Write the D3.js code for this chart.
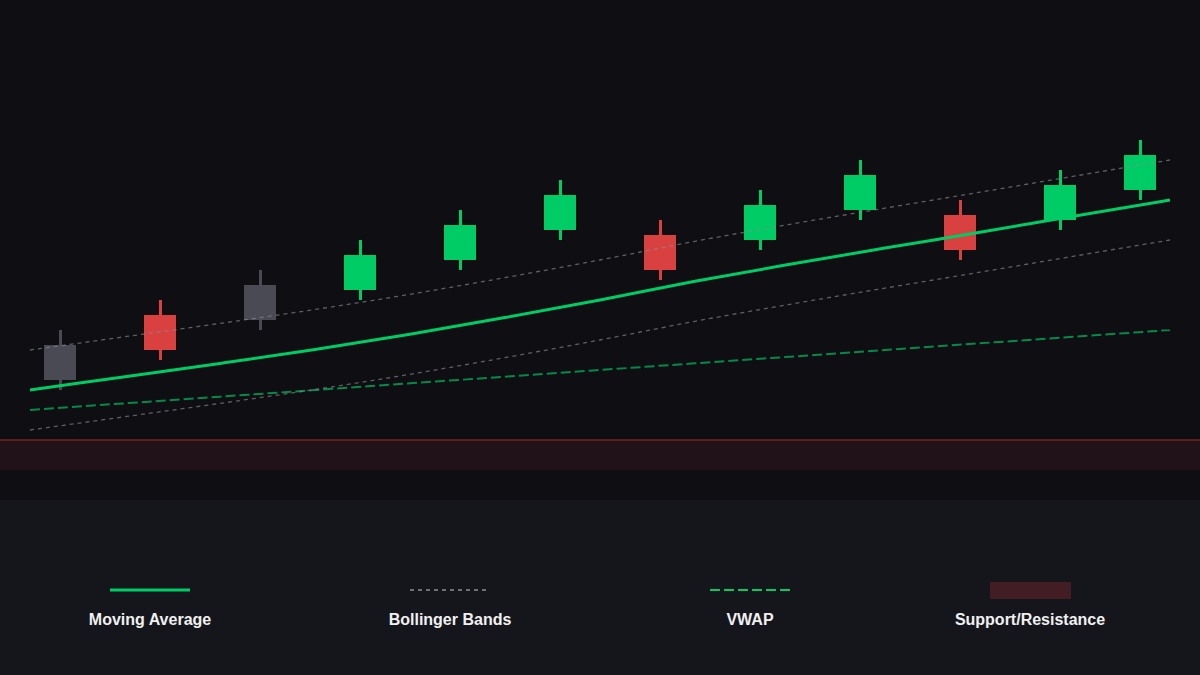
<!DOCTYPE html>
<html>
<head>
<meta charset="utf-8">
<script src="https://cdn.jsdelivr.net/npm/d3@7/dist/d3.min.js"></script>
<style>
  html, body { margin: 0; padding: 0; background: #0e0e13; }
  svg { display: block; }
</style>
</head>
<body>
<svg id="chart" width="1200" height="675"></svg>
<script>
// ---- data ----
const candleIdx = [0, 1, 2, 3, 4, 5, 6, 7, 8, 9, 10, 11];
const opens  = [115.5, 118.5, 121.5, 121.0, 124.0, 127.0, 126.5, 126.0, 129.0, 128.5, 128.0, 131.0];
const closes = [112.0, 115.0, 118.0, 124.5, 127.5, 130.5, 123.0, 129.5, 132.5, 125.0, 131.5, 134.5];
const highs  = [117.0, 120.0, 123.0, 126.0, 129.0, 132.0, 128.0, 131.0, 134.0, 130.0, 133.0, 136.0];
const lows   = [111.0, 114.0, 117.0, 120.0, 123.0, 126.0, 122.0, 125.0, 128.0, 124.0, 127.0, 130.0];
const kinds  = ["neutral", "down", "neutral", "up", "up", "up", "down", "up", "up", "down", "up", "up"];

const lineIdx   = [0, 1, 2, 3, 4, 5, 6, 7, 8, 9, 10, 11, 12];
const maValues  = [111.0, 112.33, 113.66, 115.05, 116.57, 118.24, 120.0, 121.87, 123.57, 125.19, 126.78, 128.4, 130.0];
const bbUpper   = [115.0, 116.33, 117.66, 119.05, 120.57, 122.24, 124.0, 125.87, 127.57, 129.19, 130.78, 132.4, 134.0];
const bbLower   = [107.0, 108.33, 109.66, 111.05, 112.57, 114.24, 116.0, 117.87, 119.57, 121.19, 122.78, 124.4, 126.0];
const vwapValues = [109.0, 109.67, 110.33, 111.0, 111.67, 112.33, 113.0, 113.67, 114.33, 115.0, 115.67, 116.33, 117.0];

const supportLevel = 106.0;
const supportZoneLow = 103.0;

const legendLabels = ["Moving Average", "Bollinger Bands", "VWAP", "Support/Resistance"];
const legendKinds  = ["ma", "bb", "vwap", "zone"];

// ---- setup ----
const W = 1200, H = 675;
const chartH = 500;
const svg = d3.select("#chart");

const colors = { up: "#00cc66", down: "#d94040", neutral: "#4a4a55" };

svg.append("rect").attr("x", 0).attr("y", 0).attr("width", W).attr("height", chartH).attr("fill", "#0e0e13");
svg.append("rect").attr("x", 0).attr("y", chartH).attr("width", W).attr("height", H - chartH).attr("fill", "#15161b");

const y = d3.scaleLinear().domain([100, 150]).range([chartH, 0]);
const xc = d3.scaleLinear().domain([0, 11]).range([60, 1160]);
const candleX = i => Math.min(xc(i), W - 60);
const xl = d3.scaleLinear().domain([0, 12]).range([30, 1170]);

// support zone
svg.append("rect")
  .attr("x", 0).attr("width", W)
  .attr("y", y(supportLevel)).attr("height", y(supportZoneLow) - y(supportLevel))
  .attr("fill", "#21121a");
svg.append("line")
  .attr("x1", 0).attr("x2", W)
  .attr("y1", y(supportLevel)).attr("y2", y(supportLevel))
  .attr("stroke", "#a82a2a").attr("stroke-width", 1.2);

// candles
const bodyW = 32;
const candles = svg.append("g").selectAll("g").data(candleIdx).join("g");
candles.append("rect")
  .attr("x", i => candleX(i) - 1)
  .attr("width", 3)
  .attr("y", i => y(highs[i]))
  .attr("height", i => y(lows[i]) - y(highs[i]))
  .attr("fill", i => colors[kinds[i]]);
candles.append("rect")
  .attr("x", i => candleX(i) - bodyW / 2)
  .attr("width", bodyW)
  .attr("y", i => y(Math.max(opens[i], closes[i])))
  .attr("height", i => Math.abs(y(opens[i]) - y(closes[i])))
  .attr("fill", i => colors[kinds[i]]);

// lines
const mkLine = arr => d3.line().x(i => xl(i)).y(i => y(arr[i])).curve(d3.curveMonotoneX)(lineIdx);

svg.append("path").attr("d", mkLine(vwapValues))
  .attr("fill", "none").attr("stroke", "#00cc66").attr("stroke-opacity", 0.65)
  .attr("stroke-width", 2).attr("stroke-dasharray", "10,4");
svg.append("path").attr("d", mkLine(bbUpper))
  .attr("fill", "none").attr("stroke", "#8a8a90").attr("stroke-opacity", 0.65)
  .attr("stroke-width", 1.3).attr("stroke-dasharray", "4,4");
svg.append("path").attr("d", mkLine(bbLower))
  .attr("fill", "none").attr("stroke", "#8a8a90").attr("stroke-opacity", 0.65)
  .attr("stroke-width", 1.3).attr("stroke-dasharray", "4,4");
svg.append("path").attr("d", mkLine(maValues))
  .attr("fill", "none").attr("stroke", "#00cc66")
  .attr("stroke-width", 3);

// legend
const legendX = d3.scalePoint().domain(legendLabels).range([150, 1030]).padding(0);
const lxPos = [150, 450, 750, 1030];
const lg = svg.append("g").selectAll("g").data(legendLabels).join("g")
  .attr("transform", (d, i) => `translate(${lxPos[i]},0)`);

lg.each(function(d, i) {
  const g = d3.select(this);
  const k = legendKinds[i];
  if (k === "ma") {
    g.append("line").attr("x1", -40).attr("x2", 40).attr("y1", 590).attr("y2", 590)
      .attr("stroke", "#00cc66").attr("stroke-width", 3);
  } else if (k === "bb") {
    g.append("line").attr("x1", -40).attr("x2", 40).attr("y1", 590).attr("y2", 590)
      .attr("stroke", "#6e6e74").attr("stroke-width", 2).attr("stroke-dasharray", "4,4");
  } else if (k === "vwap") {
    g.append("line").attr("x1", -40).attr("x2", 40).attr("y1", 590).attr("y2", 590)
      .attr("stroke", "#00cc66").attr("stroke-width", 2).attr("stroke-dasharray", "10,4");
  } else {
    g.append("rect").attr("x", -40).attr("width", 81).attr("y", 582).attr("height", 17)
      .attr("fill", "#421e24");
  }
  g.append("text")
    .attr("x", 0).attr("y", 625)
    .attr("text-anchor", "middle")
    .attr("fill", "#f0f0f0")
    .attr("font-family", "'Liberation Sans', Arial, Helvetica, sans-serif")
    .attr("font-weight", "bold")
    .attr("font-size", 16)
    .text(d);
});
</script>
</body>
</html>
